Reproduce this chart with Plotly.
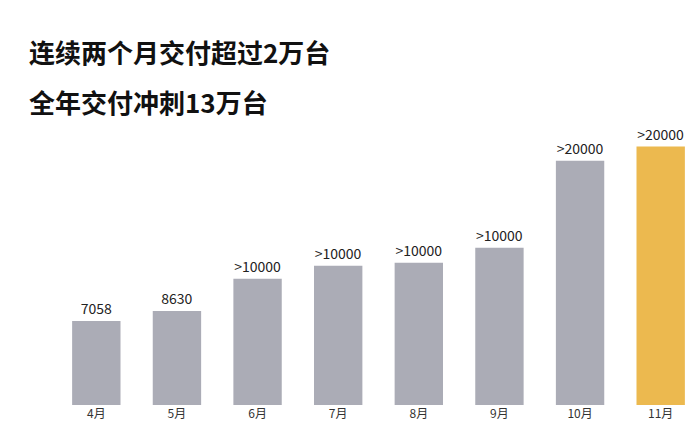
import plotly.graph_objects as go

months = ["4月", "5月", "6月", "7月", "8月", "9月", "10月", "11月"]
# bar heights
heights = [7058, 7900, 10600, 11700, 11950, 13200, 20500, 21700]
labels = ["7058", "8630", ">10000", ">10000", ">10000", ">10000", ">20000", ">20000"]
colors = ["#abacb6"] * 7 + ["#ecb94f"]

FONT = "Noto Sans CJK SC"

fig = go.Figure(
    go.Bar(
        x=months,
        y=heights,
        text=labels,
        textposition="outside",
        textfont=dict(size=14, color="#222", family=FONT),
        cliponaxis=False,
        marker=dict(color=colors, line=dict(width=0)),
        hoverinfo="none",
    )
)

fig.update_layout(
    width=700,
    height=429,
    margin=dict(l=48, r=7, t=110, b=32, autoexpand=False),
    bargap=0.4,
    plot_bgcolor="white",
    paper_bgcolor="white",
    showlegend=False,
    font=dict(family=FONT),
    xaxis=dict(showgrid=False, zeroline=False, showline=False, ticks="",
               automargin=False,
               tickfont=dict(size=12, color="#333", family=FONT)),
    yaxis=dict(visible=False, range=[0, 24100], automargin=False),
    annotations=[
        dict(xref="paper", yref="paper", x=-0.045, y=1.0, yshift=67, xanchor="left",
             yanchor="middle", showarrow=False, align="left",
             text="<b>连续两个月交付超过2万台</b>",
             font=dict(size=26, color="#111", family=FONT)),
        dict(xref="paper", yref="paper", x=-0.045, y=1.0, yshift=17, xanchor="left",
             yanchor="middle", showarrow=False, align="left",
             text="<b>全年交付冲刺13万台</b>",
             font=dict(size=26, color="#111", family=FONT)),
    ],
)

fig.write_html("out.html")
